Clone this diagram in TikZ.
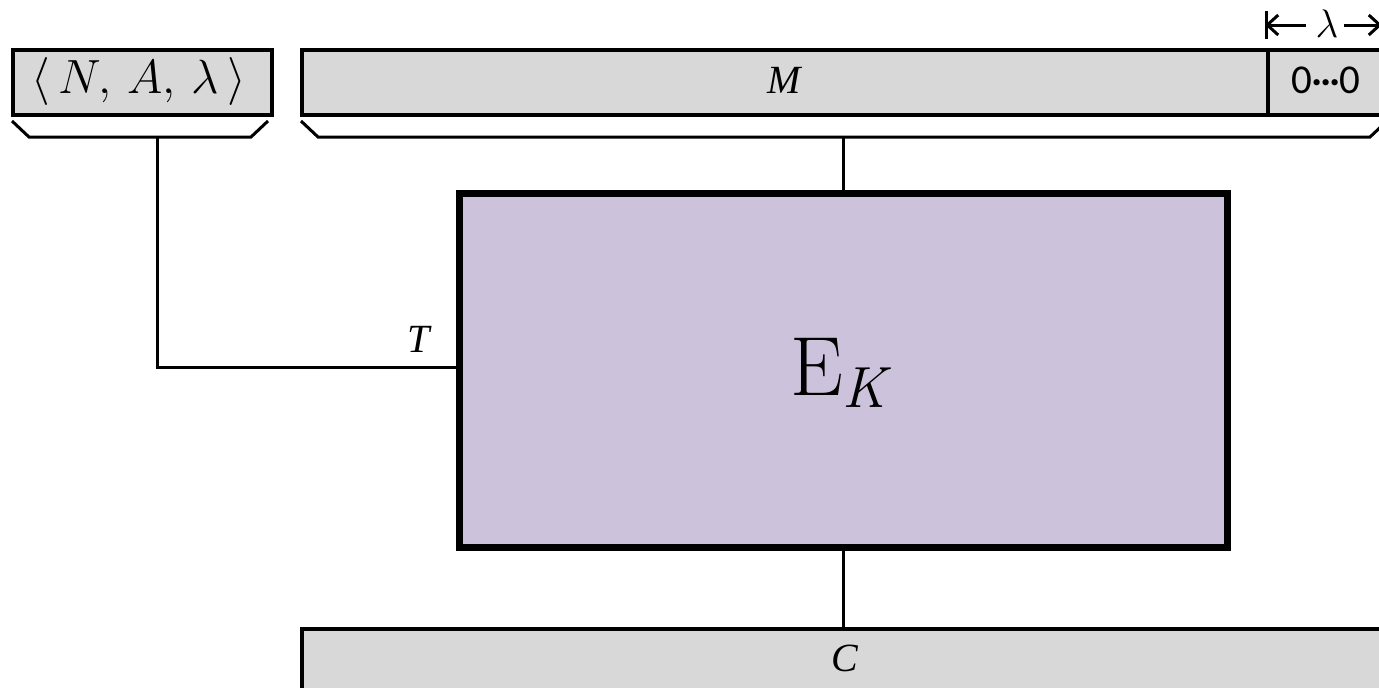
\documentclass[tikz,border=0pt]{standalone}
\usepackage{graphicx}
\usepackage{fontspec}
\newfontfamily\tnrfont{Liberation Serif}
\newfontfamily\calfont{Carlito}
\usetikzlibrary{arrows.meta}
\definecolor{boxgray}{RGB}{216,216,216}
\definecolor{lav}{RGB}{204,194,219}
\tikzset{
  graybox/.style={draw=black, fill=boxgray, line width=3.5pt, inner sep=0pt, anchor=north west},
  ebox/.style={draw=black, fill=lav, line width=7pt, inner sep=0pt},
  conn/.style={draw=black, line width=3pt},
  bracepath/.style={draw=black, line width=3pt},
  marker/.style={line width=3pt},
  lab/.style={font=\tnrfont\itshape\fontsize{40}{42}\selectfont, inner sep=0pt}
}
\begin{document}
\begin{tikzpicture}[x=1pt,y=-1pt]
\useasboundingbox (0,0) rectangle (1379,688);
\clip (0,0) rectangle (1379,688);
% top boxes
\node[graybox, minimum width=259pt, minimum height=65pt] (nal) at (11,48) {};
\node[inner sep=0pt, anchor=base] (naltxt) at (139,93) {\scalebox{1.93}{\fontsize{24.88}{26}\selectfont $\langle\, N,\, A,\, \lambda\,\rangle$}};
\node[graybox, minimum width=966pt, minimum height=65pt] (M) at (300,48) {};
\node[lab, anchor=base] (Mt) at (784,93) {M};
\node[graybox, minimum width=118pt, minimum height=65pt] (Z) at (1266,48) {};
\node[font=\calfont\fontsize{41}{43}\selectfont, inner sep=0pt, anchor=base] (zt) at (1326,93) {0\hspace{-1pt}\raisebox{7.5pt}{\bfseries\fontsize{42}{42}\selectfont.\hspace{-2.5pt}.\hspace{-2.5pt}.}\hspace{-1pt}0};
% lambda width marker
\coordinate (lw1) at (1265,25);
\coordinate (lw2) at (1382,25);
\node[inner sep=0pt] (lam) at (1327,24) {\scalebox{1.6}{\fontsize{24.88}{26}\selectfont$\lambda$}};
\coordinate (lamL) at (1306,25);
\coordinate (lamR) at (1344,25);
\draw[marker, {Bar[width=28pt,line width=3pt]Straight Barb[length=11pt,width=20pt,line width=3pt,sep=-3pt]}-] (lw1) -- (lamL);
\draw[marker, -{Straight Barb[length=11pt,width=20pt,line width=3pt,sep=-3pt]Bar[width=28pt,line width=3pt]}] (lamR) -- (lw2);
% braces
\coordinate (b1a) at (12,121);
\coordinate (b1b) at (29,137);
\coordinate (b1c) at (251,137);
\coordinate (b1d) at (268,121);
\coordinate (b1m) at (157,137);
\draw[bracepath] (b1a) -- (b1b) -- (b1c) -- (b1d);
\coordinate (b2a) at (301,121);
\coordinate (b2b) at (318,137);
\coordinate (b2c) at (1370,137);
\coordinate (b2d) at (1387,121);
\coordinate (b2m) at (843,137);
\draw[bracepath] (b2a) -- (b2b) -- (b2c) -- (b2d);
% encryption box
\node[ebox, minimum width=768pt, minimum height=354pt] (E) at (843,370) {};
\node[font=\fontsize{84}{86}\selectfont, inner sep=0pt, anchor=base west] (Et) at (790,395) {E\raisebox{-12pt}{\fontsize{58}{60}\selectfont\itshape K}};
% bottom box
\node[graybox, minimum width=1086pt, minimum height=66pt] (C) at (300,627) {};
\node[lab, anchor=base] (Ct) at (845,671) {C};
% connectors
\coordinate (tc) at (157,367);
\coordinate (te) at (459,367);
\draw[conn] (b1m) -- (tc) -- (te);
\node[lab, anchor=base] (T) at (419,352) {T};
\draw[conn] (b2m) -- (E.north);
\draw[conn] (E.south) -- (C.north -| E.south);
\end{tikzpicture}
\end{document}
